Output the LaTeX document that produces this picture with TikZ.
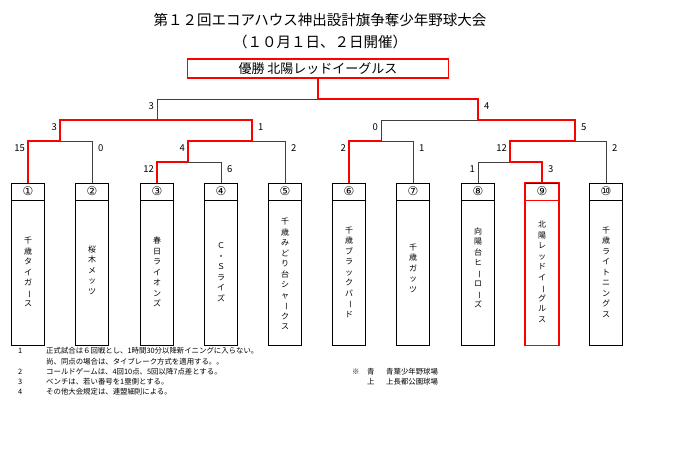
\documentclass[tikz,border=0pt]{standalone}
\usepackage{fontspec}
\setmainfont{Noto Sans CJK JP}
\newfontfamily\symfont{DejaVu Sans}
\newcommand\chobar{\rotatebox[origin=c]{-90}{ー}}
\tikzset{
  win/.style={red,line width=1.2pt},
  lose/.style={black!75,line width=1pt},
  team/.style={draw,line width=0.9pt,minimum width=33pt,minimum height=162pt,inner sep=0pt},
  score/.style={font=\fontsize{9.5}{10}\selectfont,inner sep=0pt},
  tname/.style={font=\fontsize{8}{10.5}\selectfont,align=center,inner sep=0pt},
  note/.style={font=\fontsize{7.4}{8}\selectfont,anchor=west,inner sep=0pt}
}
\begin{document}
\begin{tikzpicture}[x=1pt,y=-1pt]
   \useasboundingbox (0,0) rectangle (680,450);
   % title
   \node[font=\fontsize{14.5}{16}\selectfont] at (320,20) {第１２回エコアハウス神出設計旗争奪少年野球大会};
   \node[font=\fontsize{14.5}{16}\selectfont] at (320,42) {（１０月１日、２日開催）};
   \node[draw=red,line width=1.2pt,minimum width=261pt,minimum height=19pt,inner sep=0pt,
         font=\fontsize{13}{14}\selectfont] (champ) at (318,68.5) {優勝 北陽レッドイーグルス};
   % teams
   \foreach \i/\x in {1/28,2/92,3/157,4/221,5/285,6/349,7/413,8/478,9/542,10/606}{
     \node[team] (t\i) at (\x,264) {};
     \draw[line width=0.9pt] ([yshift=-18pt]t\i.north west) -- ([yshift=-18pt]t\i.north east);
   }
   \draw[red,line width=1.2pt] (t9.north west) rectangle (t9.south east);
   \draw[red,line width=1.2pt] ([yshift=-18pt]t9.north west) -- ([yshift=-18pt]t9.north east);
   \foreach \i/\c in {1/①,2/②,3/③,4/④,5/⑤,6/⑥,7/⑦,8/⑧,9/⑨,10/⑩}
     \node[font=\symfont\fontsize{12}{12}\selectfont,inner sep=0pt] (n\i) at ([yshift=-9pt]t\i.north) {\c};
   \node[tname] (name1) at (28,272) {千\\歳\\タ\\イ\\ガ\\\chobar\\ス};
   \node[tname] (name2) at (92,270) {桜\\木\\メ\\ッ\\ツ};
   \node[tname] (name3) at (157,272) {春\\日\\ラ\\イ\\オ\\ン\\ズ};
   \node[tname] (name4) at (221,272) {Ｃ\\・\\Ｓ\\ラ\\イ\\ズ};
   \node[tname] (name5) at (285,274) {千\\歳\\み\\ど\\り\\台\\シ\\ャ\\\chobar\\ク\\ス};
   \node[tname] (name6) at (349,272) {千\\歳\\ブ\\ラ\\ッ\\ク\\バ\\\chobar\\ド};
   \node[tname] (name7) at (413,268) {千\\歳\\ガ\\ッ\\ツ};
   \node[tname] (name8) at (478,268) {向\\陽\\台\\ヒ\\\chobar\\ロ\\\chobar\\ズ};
   \node[tname] (name9) at (542,272) {北\\陽\\レ\\ッ\\ド\\イ\\\chobar\\グ\\ル\\ス};
   \node[tname] (name10) at (606,272) {千\\歳\\ラ\\イ\\ト\\ニ\\ン\\グ\\ス};
   % bracket
   \coordinate (g12) at (60,141);
   \coordinate (g34) at (188,162);
   \coordinate (g345) at (252,141);
   \coordinate (gL) at (157,120);
   \coordinate (g67) at (381,141);
   \coordinate (g89) at (510,162);
   \coordinate (g8910) at (575,141);
   \coordinate (gR) at (478,120);
   \coordinate (gF) at (318,99);
   \draw[win] (t1.north) |- (g12);
   \draw[lose] (t2.north) |- (g12);
   \draw[win] (t3.north) |- (g34);
   \draw[lose] (t4.north) |- (g34);
   \draw[win] (g34) |- (g345);
   \draw[lose] (t5.north) |- (g345);
   \draw[win] (g12) |- (gL);
   \draw[win] (g345) |- (gL);
   \draw[lose] (gL) |- (gF);
   \draw[win] (t6.north) |- (g67);
   \draw[lose] (t7.north) |- (g67);
   \draw[lose] (t8.north) |- (g89);
   \draw[win] (t9.north) |- (g89);
   \draw[win] (g89) |- (g8910);
   \draw[lose] (t10.north) |- (g8910);
   \draw[lose] (g67) |- (gR);
   \draw[win] (g8910) |- (gR);
   \draw[win] (gR) |- (gF);
   \draw[win] (gF) -- (champ.south);
   % scores
   \foreach \x/\y/\s in {28/141/15,60/120/3,157/99/3,188/141/4,157/162/12,349/141/2,381/120/0,510/141/12,478/162/1}
     \node[score,anchor=east] at (\x-3,\y+7) {\s};
   \foreach \x/\y/\s in {92/141/0,252/120/1,478/99/4,285/141/2,221/162/6,413/141/1,575/120/5,606/141/2,542/162/3}
     \node[score,anchor=west] at (\x+6,\y+7) {\s};
   % notes
   \node[note] at (18,351) {1};
   \node[note] at (46,351) {正式試合は６回戦とし、1時間30分以降新イニングに入らない。};
   \node[note] at (46,362) {尚、同点の場合は、タイブレーク方式を適用する。。};
   \node[note] at (18,372) {2};
   \node[note] at (46,372) {コールドゲームは、4回10点、5回以降7点差とする。};
   \node[note] at (18,382) {3};
   \node[note] at (46,382) {ベンチは、若い番号を1塁側とする。};
   \node[note] at (18,392) {4};
   \node[note] at (46,392) {その他大会規定は、連盟細則による。};
   \node[note] at (352,372) {※};
   \node[note] at (367,372) {青};
   \node[note] at (386,372) {青葉少年野球場};
   \node[note] at (367,382) {上};
   \node[note] at (386,382) {上長都公園球場};
 \end{tikzpicture}
\end{document}
